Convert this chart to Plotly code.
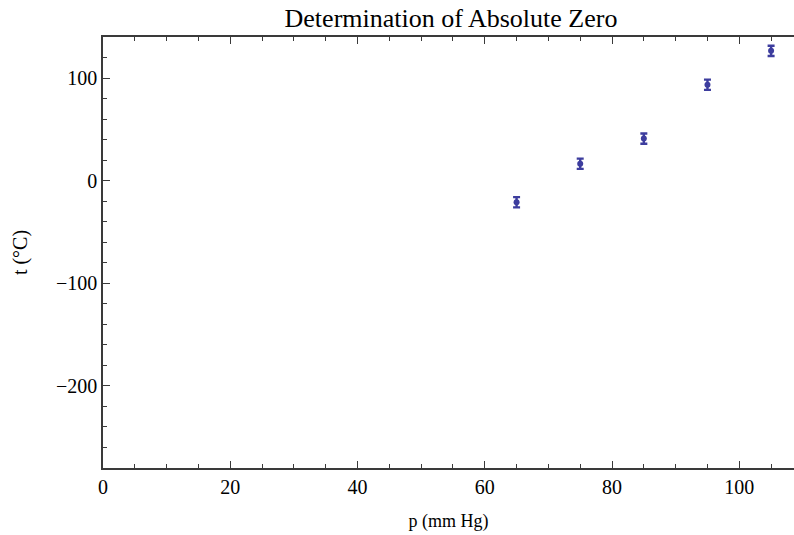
import plotly.graph_objects as go

pressure = [65, 75, 85, 95, 105]
temperature = [-21, 16.5, 41, 93.5, 126.5]
temp_error = [5, 5, 5, 5, 5]

title_text = "Determination of Absolute Zero"
x_title = "p (mm Hg)"
y_title = "t (°C)"

color = "rgb(61,61,158)"
frame = "#3a3a3a"
font_family = "Liberation Serif"

fig = go.Figure()
fig.add_trace(go.Scatter(
    x=pressure, y=temperature, mode="markers",
    marker=dict(color=color, size=6),
    error_y=dict(type="data", array=temp_error, visible=True,
                 color=color, thickness=2.4, width=3.5),
    showlegend=False,
))

fig.update_layout(
    width=794, height=535,
    margin=dict(l=103, r=0, t=37, b=67),
    paper_bgcolor="white", plot_bgcolor="white",
    font=dict(family=font_family, color="black", size=20),
    title=dict(text=title_text, x=0.568, xanchor="center",
               y=1 - 18 / 535, yref="container", yanchor="middle",
               font=dict(size=26, family=font_family, color="black")),
    xaxis=dict(
        range=[0, 108.6], showgrid=False, zeroline=False,
        showline=True, linecolor=frame, linewidth=1.5, mirror="ticks",
        ticks="inside", ticklen=7, tickwidth=1.2, tickcolor=frame,
        dtick=20, tick0=0,
        minor=dict(dtick=5, ticks="inside", ticklen=4, tickcolor=frame, tickwidth=1),
        title=dict(text=x_title, font=dict(size=18), standoff=18),
        tickfont=dict(size=20),
    ),
    yaxis=dict(
        range=[-280, 140], showgrid=False, zeroline=False,
        showline=True, linecolor=frame, linewidth=1.5, mirror=False,
        ticks="inside", ticklen=7, tickwidth=1.2, tickcolor=frame,
        dtick=100, tick0=0,
        minor=dict(dtick=20, ticks="inside", ticklen=4, tickcolor=frame, tickwidth=1),
        title=dict(text=y_title, font=dict(size=20), standoff=23),
        tickfont=dict(size=20),
    ),
)

fig.write_html(
    "out.html",
    config={"displayModeBar": False},
    post_script="document.body.style.margin='0';document.body.style.overflow='hidden';",
)
